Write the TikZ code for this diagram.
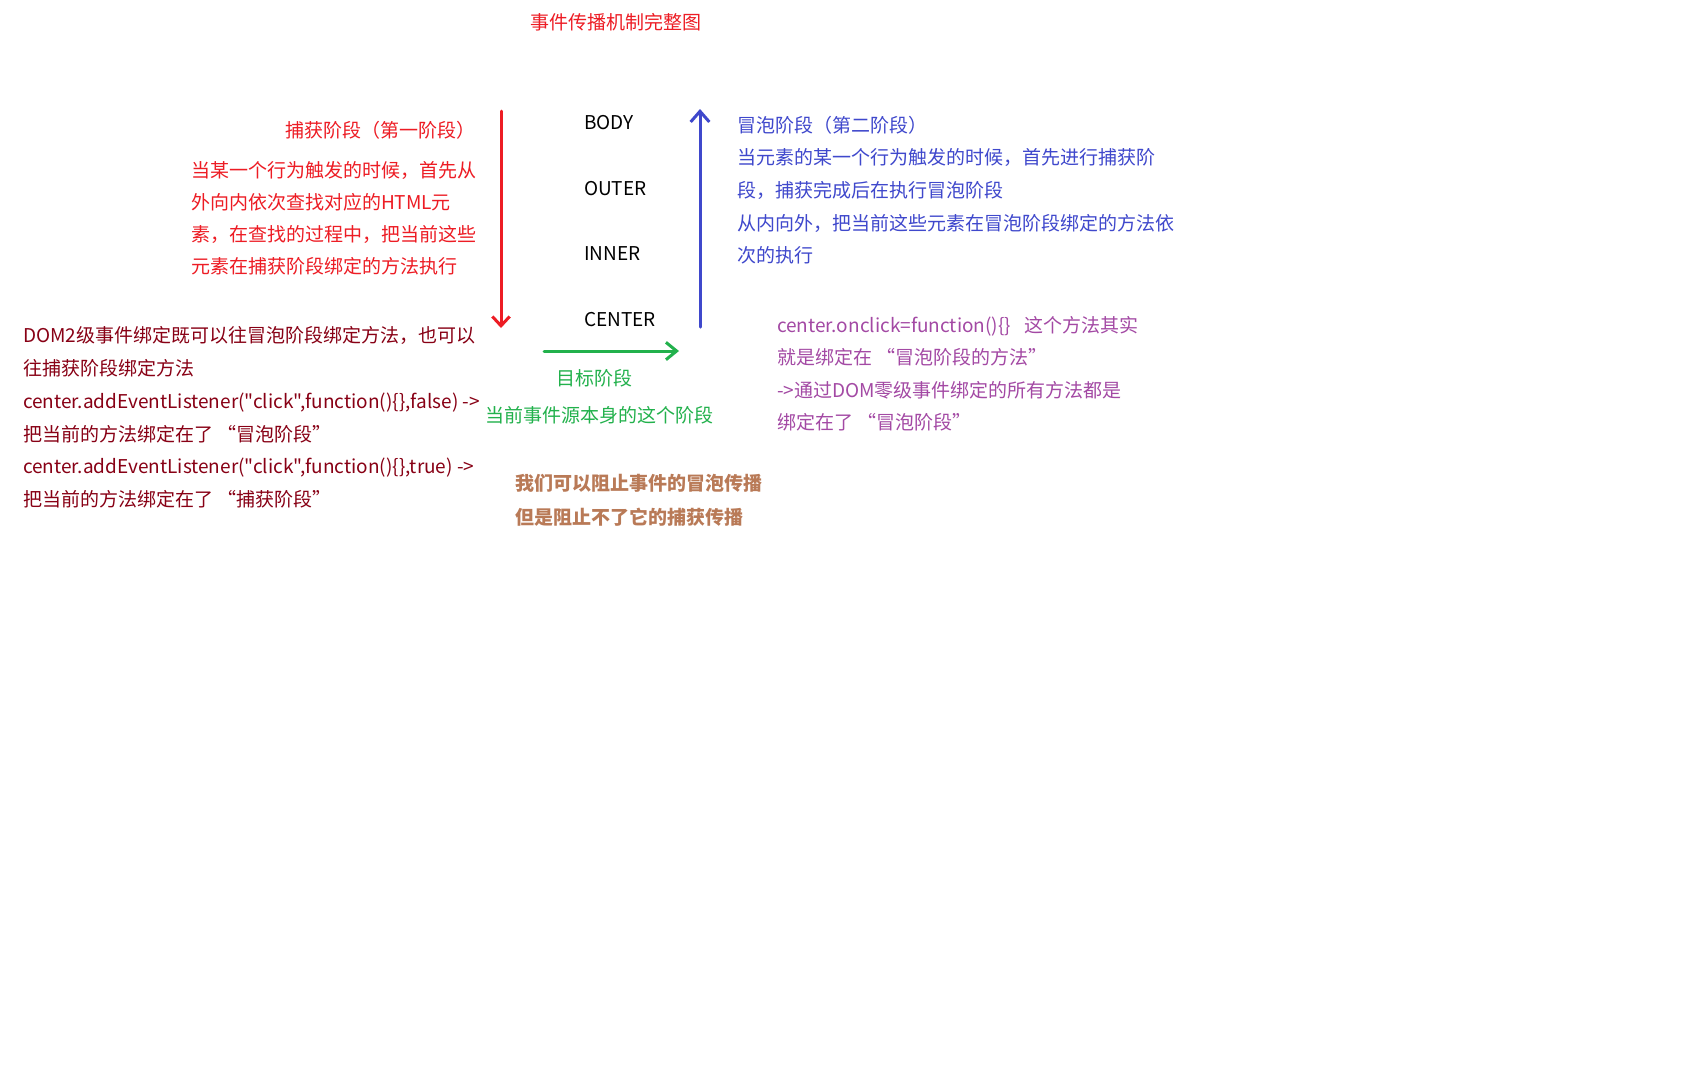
\documentclass[tikz,border=0pt]{standalone}
\usepackage{fontspec}
\setmainfont{Noto Sans CJK SC}[Ligatures=TeXOff]
\usetikzlibrary{arrows.meta}
\definecolor{pred}{HTML}{ED1C24}
\definecolor{pblue}{HTML}{3F48CC}
\definecolor{pgreen}{HTML}{22B14C}
\definecolor{ppurple}{HTML}{A349A4}
\definecolor{pbrown}{HTML}{B97A57}
\definecolor{pdarkred}{HTML}{880015}
\begin{document}
\begin{tikzpicture}[x=0.75pt,y=-0.75pt,
  every node/.style={inner sep=0pt, outer sep=0pt, anchor=base west,
    font=\fontsize{14.25pt}{17pt}\selectfont},
  redtxt/.style={text=pred},
  bluetxt/.style={text=pblue},
  greentxt/.style={text=pgreen},
  purpletxt/.style={text=ppurple},
  browntxt/.style={text=pbrown, font=\fontsize{14.25pt}{17pt}\selectfont\bfseries},
  darkredtxt/.style={text=pdarkred},
  eltxt/.style={text=black},
  phase/.style={line width=2.25pt, line cap=round},
]
\fill[white] (0,0) rectangle (1698,1090);
\useasboundingbox (0,0) rectangle (1698,1090);

% title
\node[redtxt] (title) at (530,29) {事件传播机制完整图};

% capture phase text
\node[redtxt] (capT) at (285,137) {捕获阶段（第一阶段）};
\node[redtxt] (cap1) at (191,177) {当某一个行为触发的时候，首先从};
\node[redtxt] (cap2) at (191,209) {外向内依次查找对应的HTML元};
\node[redtxt] (cap3) at (191,241) {素，在查找的过程中，把当前这些};
\node[redtxt] (cap4) at (191,273) {元素在捕获阶段绑定的方法执行};

% elements
\node[eltxt] (body) at (584,129) {BODY};
\node[eltxt] (outer) at (584,195) {OUTER};
\node[eltxt] (inner) at (584,260) {INNER};
\node[eltxt] (center) at (584,326) {CENTER};

% bubble phase text
\node[bluetxt] (bubT) at (737,132) {冒泡阶段（第二阶段）};
\node[bluetxt] (bub1) at (737,164) {当元素的某一个行为触发的时候，首先进行捕获阶};
\node[bluetxt] (bub2) at (737,197) {段，捕获完成后在执行冒泡阶段};
\node[bluetxt] (bub3) at (737,230) {从内向外，把当前这些元素在冒泡阶段绑定的方法依};
\node[bluetxt] (bub4) at (737,262) {次的执行};

% DOM2 text
\node[darkredtxt] (dom1) at (23,342) {DOM2级事件绑定既可以往冒泡阶段绑定方法，也可以};
\node[darkredtxt] (dom2) at (23,375) {往捕获阶段绑定方法};
\node[darkredtxt] (dom3) at (23,408) {center.addEventListener("click",function()\{\},false) ->};
\node[darkredtxt] (dom4) at (23,441) {把当前的方法绑定在了 “冒泡阶段”};
\node[darkredtxt] (dom5) at (23,473) {center.addEventListener("click",function()\{\},true) ->};
\node[darkredtxt] (dom6) at (23,506) {把当前的方法绑定在了 “捕获阶段”};

% target phase
\node[greentxt] (tgt1) at (556,385) {目标阶段};
\node[greentxt] (tgt2) at (485,422) {当前事件源本身的这个阶段};

% onclick text
\node[purpletxt] (on1) at (777,332) {center.onclick=function()\{\}\hspace*{0.7em}这个方法其实};
\node[purpletxt] (on2) at (777,364) {就是绑定在 “冒泡阶段的方法”};
\node[purpletxt] (on3) at (777,397) {->通过DOM零级事件绑定的所有方法都是};
\node[purpletxt] (on4) at (777,429) {绑定在了 “冒泡阶段”};

% stop propagation
\node[browntxt] (stop1) at (515,490) {我们可以阻止事件的冒泡传播};
\node[browntxt] (stop2) at (515,524) {但是阻止不了它的捕获传播};

% arrows
\coordinate (capS) at (501,111);
\coordinate (capE) at (501,328);
\coordinate (bubS) at (700,327);
\coordinate (bubE) at (700,109);
\coordinate (tgtS) at (544,351);
\coordinate (tgtE) at (679,351);
\draw[phase, pred, -{Straight Barb[length=7pt,width=13pt]}] (capS) -- (capE);
\draw[phase, pblue, -{Straight Barb[length=8pt,width=14pt]}] (bubS) -- (bubE);
\draw[phase, pgreen, -{Straight Barb[length=8pt,width=13pt]}] (tgtS) -- (tgtE);
\end{tikzpicture}
\end{document}
